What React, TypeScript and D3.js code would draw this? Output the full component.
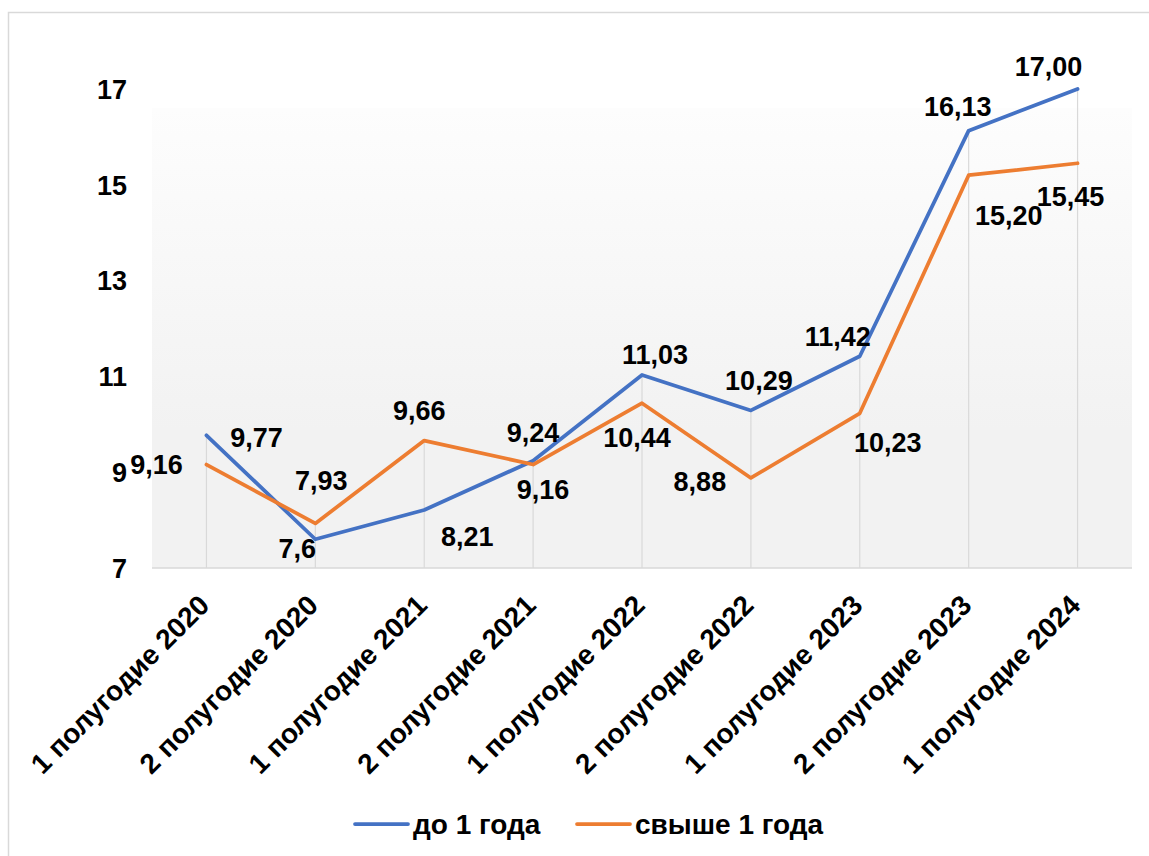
import React from "react";
import * as d3 from "d3";

const categories: string[] = [
  "1 полугодие 2020",
  "2 полугодие 2020",
  "1 полугодие 2021",
  "2 полугодие 2021",
  "1 полугодие 2022",
  "2 полугодие 2022",
  "1 полугодие 2023",
  "2 полугодие 2023",
  "1 полугодие 2024",
];

const seriesUpTo1Year: number[] = [9.77, 7.6, 8.21, 9.24, 11.03, 10.29, 11.42, 16.13, 17.0];
const seriesOver1Year: number[] = [9.16, 7.93, 9.66, 9.16, 10.44, 8.88, 10.23, 15.2, 15.45];
const labelsUpTo1Year: string[] = ["9,77", "7,6", "8,21", "9,24", "11,03", "10,29", "11,42", "16,13", "17,00"];
const labelsOver1Year: string[] = ["9,16", "7,93", "9,66", "9,16", "10,44", "8,88", "10,23", "15,20", "15,45"];
const yTicks: number[] = [7, 9, 11, 13, 15, 17];
const seriesNames: string[] = ["до 1 года", "свыше 1 года"];

// label placement offsets (layout config, relative to the point)
const offsetsBlue: [number, number][] = [
  [50, 2], [-18, 9], [43, 26], [0, -28], [13, -21], [8, -30], [-22, -20], [-11, -24], [-29, -23],
];
const offsetsOrange: [number, number][] = [
  [-50, 0], [6, -43], [-5, -30], [10, 25], [-5, 34], [-51, 3], [28, 29], [40, 40], [-7, 33],
];

const W = 1149;
const H = 856;
const FONT = "'Liberation Sans', Arial, Helvetica, sans-serif";
const BLUE = "#4472C4";
const ORANGE = "#ED7D31";

export default function App() {
  const plotLeft = 152;
  const plotRight = 1132;
  const yTop = 89;
  const yBottom = 568;

  const x = d3.scaleBand<string>().domain(categories).range([plotLeft, plotRight]);
  const cx = (c: string) => (x(c) as number) + x.bandwidth() / 2;
  const y = d3.scaleLinear().domain([7, 17]).range([yBottom, yTop]);

  const line = d3
    .line<number>()
    .x((_, i) => cx(categories[i]))
    .y((d) => y(d));

  const series = [
    { name: seriesNames[0], values: seriesUpTo1Year, labels: labelsUpTo1Year, color: BLUE, offsets: offsetsBlue },
    { name: seriesNames[1], values: seriesOver1Year, labels: labelsOver1Year, color: ORANGE, offsets: offsetsOrange },
  ];

  const legendItems = [
    { name: seriesNames[0], color: BLUE, x0: 355 },
    { name: seriesNames[1], color: ORANGE, x0: 577 },
  ];

  return (
    <svg
      width={W}
      height={H}
      style={{ position: "absolute", left: 0, top: 0, background: "#ffffff" }}
      fontFamily={FONT}
    >
      <defs>
        <linearGradient id="plotbg" x1="0" y1="0" x2="0" y2="1">
          <stop offset="0%" stopColor="#fdfdfd" />
          <stop offset="70%" stopColor="#f2f2f2" />
          <stop offset="100%" stopColor="#f2f2f2" />
        </linearGradient>
      </defs>
      <rect x={0} y={0} width={W} height={H} fill="#ffffff" />
      <rect x={8.5} y={12.5} width={W + 20} height={H + 20} fill="none" stroke="#d9d9d9" strokeWidth={1.5} />

      <rect x={plotLeft} y={108} width={plotRight - plotLeft} height={yBottom - 108} fill="url(#plotbg)" />

      {/* drop lines */}
      {categories.map((c, i) => (
        <line
          key={"drop" + i}
          x1={cx(c)}
          x2={cx(c)}
          y1={y(Math.max(seriesUpTo1Year[i], seriesOver1Year[i]))}
          y2={yBottom}
          stroke="#d9d9d9"
          strokeWidth={1.2}
        />
      ))}

      {/* x axis line */}
      <line x1={plotLeft} x2={plotRight} y1={yBottom} y2={yBottom} stroke="#d9d9d9" strokeWidth={1.5} />

      {/* y tick labels */}
      {yTicks.map((t) => (
        <text
          key={"yt" + t}
          x={127}
          y={y(t)}
          dy="0.36em"
          textAnchor="end"
          fontSize={27}
          fontWeight="bold"
          fill="#000"
        >
          {t}
        </text>
      ))}

      {/* x tick labels */}
      {categories.map((c, i) => (
        <text
          key={"xt" + i}
          transform={`translate(${cx(c) + 4.5},${607}) rotate(-45)`}
          textAnchor="end"
          fontSize={28}
          fontWeight="bold"
          fill="#000"
        >
          {c}
        </text>
      ))}

      {/* lines */}
      {series.map((s) => (
        <path
          key={"l" + s.name}
          d={line(s.values) || ""}
          fill="none"
          stroke={s.color}
          strokeWidth={3.75}
          strokeLinejoin="round"
          strokeLinecap="round"
        />
      ))}

      {/* data labels */}
      {series.map((s) =>
        s.values.map((v, i) => (
          <text
            key={"dl" + s.name + i}
            x={cx(categories[i]) + s.offsets[i][0]}
            y={y(v) + s.offsets[i][1]}
            dy="0.36em"
            textAnchor="middle"
            fontSize={27}
            fontWeight="bold"
            fill="#000"
          >
            {s.labels[i]}
          </text>
        ))
      )}

      {/* legend */}
      {legendItems.map((it) => (
        <g key={"lg" + it.name}>
          <line
            x1={it.x0}
            x2={it.x0 + 53}
            y1={824}
            y2={824}
            stroke={it.color}
            strokeWidth={3.75}
            strokeLinecap="round"
          />
          <text x={it.x0 + 58} y={824} dy="0.36em" fontSize={28} fontWeight="bold" fill="#000">
            {it.name}
          </text>
        </g>
      ))}
    </svg>
  );
}
